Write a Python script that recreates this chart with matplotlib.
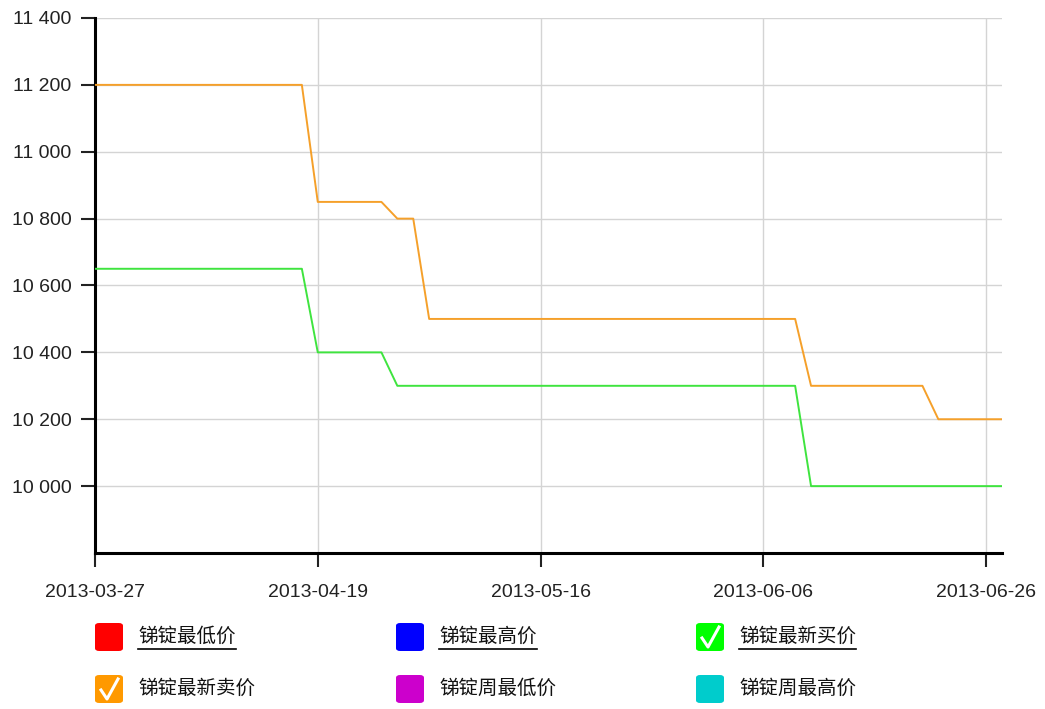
import matplotlib.pyplot as plt
from matplotlib.patches import FancyBboxPatch
from matplotlib.lines import Line2D

plt.rcParams['font.family'] = ['Liberation Sans', 'Noto Sans CJK SC', 'DejaVu Sans']

# trading-day index -> price (58 points)
sell_price = ([11200] * 14 + [10850] * 5 + [10800] * 2 + [10500] * 24
              + [10300] * 8 + [10200] * 5)
buy_price = [10650] * 14 + [10400] * 5 + [10300] * 26 + [10000] * 13
tick_idx = [0, 14, 28, 42, 56]
tick_dates = ['2013-03-27', '2013-04-19', '2013-05-16', '2013-06-06', '2013-06-26']
y_ticks = [10000, 10200, 10400, 10600, 10800, 11000, 11200, 11400]

legend_names = ['锑锭最低价', '锑锭最高价', '锑锭最新买价',
                '锑锭最新卖价', '锑锭周最低价', '锑锭周最高价']
legend_colors = ['#ff0000', '#0000ff', '#00ff00', '#ff9900', '#cc00cc', '#00cccc']
legend_checked = [False, False, True, True, False, False]
legend_underline = [True, True, True, False, False, False]

W, H = 1045, 709
fig = plt.figure(figsize=(W / 100, H / 100), dpi=100)
ax = fig.add_axes([95 / W, 1 - 553 / H, (1002 - 95) / W, (553 - 18) / H])

x = list(range(len(sell_price)))
ax.plot(x, sell_price, color='#f5a02a', lw=1.4, zorder=3)
ax.plot(x, buy_price, color='#3fe43f', lw=1.4, zorder=3)

ax.set_xlim(0, 57)
ax.set_ylim(9800, 11400)
ax.set_xticks(tick_idx)
ax.set_xticklabels(tick_dates)
ax.set_yticks(y_ticks)
ax.set_yticklabels([f'{v:,}'.replace(',', ' ') for v in y_ticks])
ax.tick_params(labelsize=14, colors='#222222', length=10, width=1.5)
ax.tick_params(axis='x', pad=12)
ax.tick_params(axis='y', pad=7)
ax.grid(True, color='#d4d4d4', lw=1)
ax.set_axisbelow(True)
for s in ['top', 'right']:
    ax.spines[s].set_visible(False)
for s in ['left', 'bottom']:
    ax.spines[s].set_linewidth(2.2)
    ax.spines[s].set_color('black')

# legend drawn by hand, 3 columns x 2 rows
col_x = [95, 396, 696]
row_y = [637, 689]
for i, name in enumerate(legend_names):
    cx = col_x[i % 3]
    cy = row_y[i // 3]
    box = FancyBboxPatch((cx / W, 1 - (cy + 14) / H), 28 / W, 28 / H,
                         boxstyle='round,pad=0.0,rounding_size=0.004',
                         transform=fig.transFigure, facecolor=legend_colors[i],
                         edgecolor='none')
    fig.patches.append(box)
    if legend_checked[i]:
        fig.add_artist(Line2D([(cx + 6) / W, (cx + 12) / W, (cx + 23) / W],
                              [1 - (cy + 1) / H, 1 - (cy + 10) / H, 1 - (cy - 10) / H],
                              transform=fig.transFigure, color='white', lw=2.2))
    t = fig.text((cx + 43) / W, 1 - cy / H, name, fontsize=14, va='center',
                 ha='left', color='#111111')
    if legend_underline[i]:
        fig.canvas.draw()
        bb = t.get_window_extent()
        fig.add_artist(Line2D([bb.x0 / W, bb.x1 / W],
                              [1 - (cy + 12) / H] * 2,
                              transform=fig.transFigure, color='black', lw=1.2))

fig.savefig('out.png', dpi=100)
